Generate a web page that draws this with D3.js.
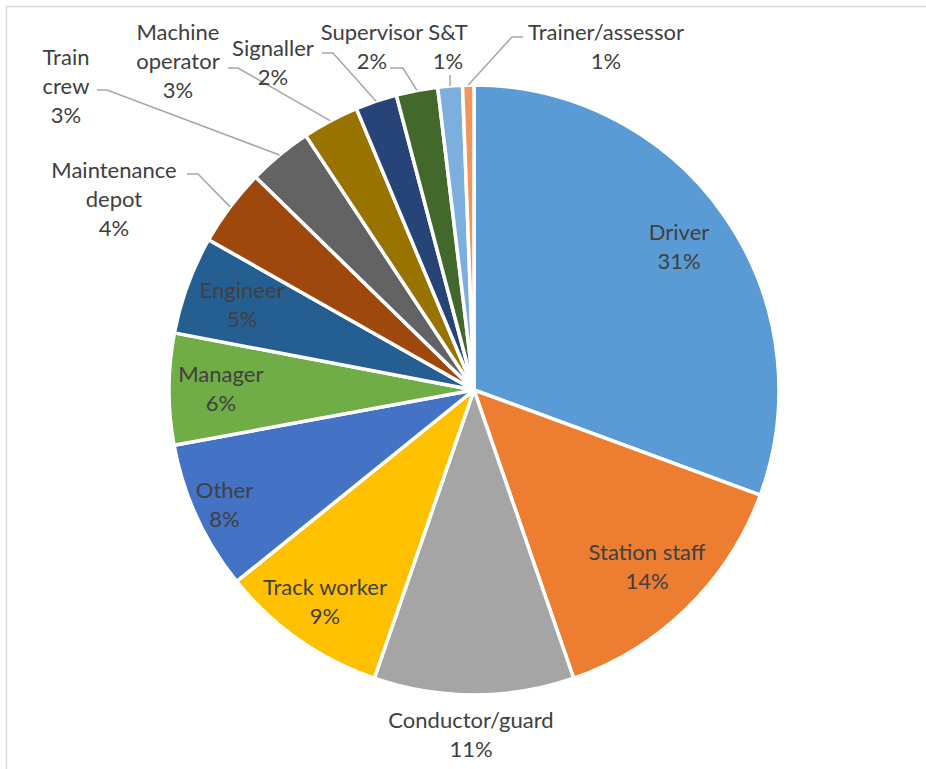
<!DOCTYPE html>
<html>
<head>
<meta charset="utf-8">
<script src="https://cdn.jsdelivr.net/npm/d3@7"></script>
<style>
  html, body { margin: 0; padding: 0; background: #fff; }
  svg { display: block; }
</style>
</head>
<body>
<svg id="chart" width="926" height="769"></svg>
<script>
// ---- data ----
const categories = ["Driver", "Station staff", "Conductor/guard", "Track worker", "Other",
  "Manager", "Engineer", "Maintenance depot", "Train crew", "Machine operator",
  "Signaller", "Supervisor", "S&T", "Trainer/assessor"];
const values = [30.6, 14.1, 10.6, 8.9, 7.9, 5.9, 5.2, 4.1, 3.4, 3.0, 2.2, 2.2, 1.3, 0.6];
const colors = ["#5B9BD5", "#ED7D31", "#A5A5A5", "#FFC000", "#4472C4", "#70AD47", "#255E91",
  "#9E480E", "#636363", "#997300", "#264478", "#43682B", "#7CAFDD", "#F1975A"];
// label text lines
const labelLines = [["Driver"], ["Station staff"], ["Conductor/guard"], ["Track worker"], ["Other"],
  ["Manager"], ["Engineer"], ["Maintenance", "depot"], ["Train", "crew"], ["Machine", "operator"],
  ["Signaller"], ["Supervisor"], ["S&T"], ["Trainer/assessor"]];

// ---- layout ----
const W = 926, H = 769;
const cx = 474, cy = 390, R = 305;
const lineH = 29;
// inside labels: radius factor; outside labels: explicit position + leader elbow
const layout = {
  "Driver": {inside: 0.82},
  "Station staff": {inside: 0.81},
  "Track worker": {inside: 0.85},
  "Other": {inside: 0.90},
  "Manager": {inside: 0.83},
  "Engineer": {inside: 0.81},
  "Conductor/guard": {pos: [471, 720]},
  "Maintenance depot": {pos: [114, 170], leader: [[187, 174], [198, 174]]},
  "Train crew": {pos: [66, 57], leader: [[97, 90], [107, 90]]},
  "Machine operator": {pos: [178, 32], leader: [[228, 68], [238, 68]]},
  "Signaller": {pos: [273, 48], leader: [[322, 53], [333, 53]]},
  "Supervisor": {pos: [372, 32], leader: [[390, 68], [403, 68]]},
  "S&T": {pos: [448, 32], leader: [[450, 75]]},
  "Trainer/assessor": {pos: [606, 32], leader: [[523, 37], [512, 37]]}
};

const svg = d3.select("#chart");
// chart area border
svg.append("rect").attr("x", 6.5).attr("y", 6.5).attr("width", 1000).attr("height", 1000)
  .attr("fill", "none").attr("stroke", "#D9D9D9").attr("stroke-width", 1.5);

const total = d3.sum(values);
const data = categories.map((c, i) => ({name: c, value: values[i], color: colors[i], lines: labelLines[i]}));
const pie = d3.pie().value(d => d.value).sort(null);
const arcs = pie(data);
const arc = d3.arc().innerRadius(0).outerRadius(R);

const g = svg.append("g").attr("transform", `translate(${cx},${cy})`);
g.selectAll("path.slice").data(arcs).join("path")
  .attr("class", "slice")
  .attr("d", arc)
  .attr("fill", d => d.data.color)
  .attr("stroke", "#fff")
  .attr("stroke-width", 3.5)
  .attr("stroke-linejoin", "round");

const fmt = v => Math.round(v / total * 100) + "%";
const font = "Lato, 'Open Sans', sans-serif";

arcs.forEach(a => {
  const L = layout[a.data.name];
  const lines = a.data.lines.concat([fmt(a.data.value)]);
  let x, y;
  const mid = (a.startAngle + a.endAngle) / 2;
  if (L.inside) {
    const rr = L.inside * R;
    x = cx + rr * Math.sin(mid);
    y = cy - rr * Math.cos(mid) - (lines.length - 1) * lineH / 2;
  } else {
    x = L.pos[0]; y = L.pos[1];
    if (L.leader) {
      const edge = [cx + R * Math.sin(mid), cy - R * Math.cos(mid)];
      const pts = L.leader.concat([edge]);
      svg.append("path")
        .attr("d", d3.line()(pts))
        .attr("fill", "none")
        .attr("stroke", "#A6A6A6")
        .attr("stroke-width", 1.5);
    }
  }
  const t = svg.append("text")
    .attr("font-family", font)
    .attr("font-size", 22)
    .attr("fill", "#404040")
    .attr("text-anchor", "middle");
  lines.forEach((s, k) => {
    t.append("tspan").attr("x", x).attr("y", y + k * lineH).attr("dy", "0.35em").text(s);
  });
});
</script>
</body>
</html>
